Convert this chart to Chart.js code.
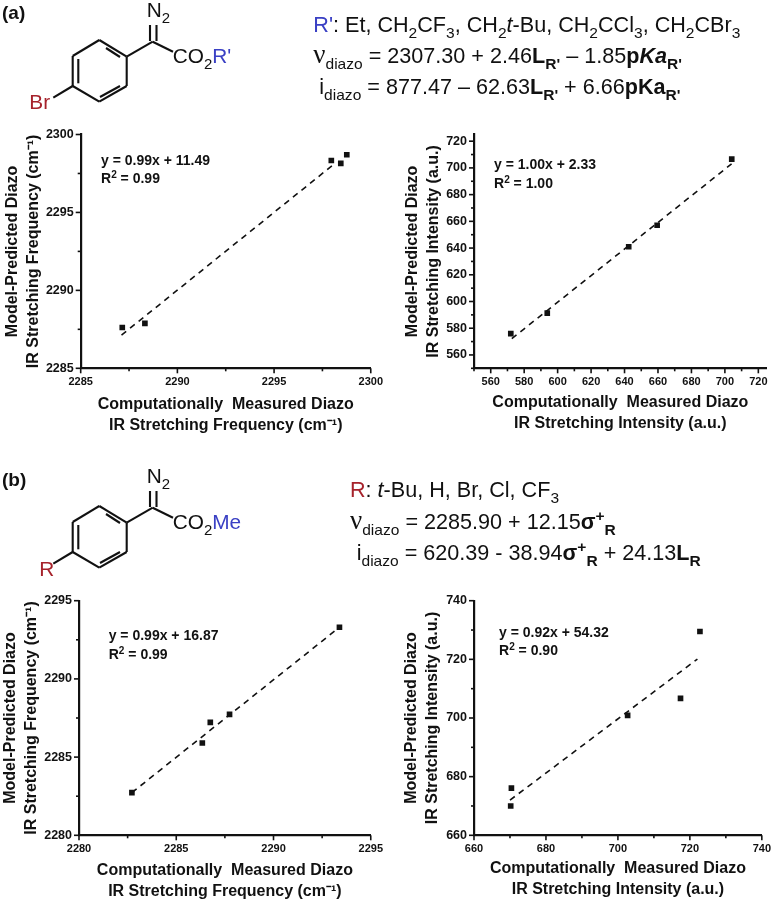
<!DOCTYPE html>
<html>
<head>
<meta charset="utf-8">
<title>Diazo IR stretching models</title>
<script src="https://cdn.jsdelivr.net/npm/chart.js@4"></script>
<style>
    html, body { margin: 0; padding: 0; background: #fff; }
    #page { position: relative; width: 778px; height: 903px; overflow: hidden; }
    #page canvas { position: absolute; }
    #overlay { position: absolute; left: 0; top: 0; }
    #overlay text { font-family: "Liberation Sans", Arial, sans-serif; fill: #111; white-space: pre; }
</style>
</head>
<body>
<div id="page">
    <canvas id="chartA1" width="390" height="320" style="left:0;top:120px"></canvas>
    <canvas id="chartA2" width="388" height="320" style="left:390px;top:120px"></canvas>
    <canvas id="chartB1" width="390" height="328" style="left:0;top:575px"></canvas>
    <canvas id="chartB2" width="388" height="328" style="left:390px;top:575px"></canvas>
    <svg id="overlay" width="778" height="903"></svg>
</div>
<script>
// Values
const a1X = [2287.15, 2288.32, 2297.96, 2298.45, 2298.76];
const a1Y = [2287.62, 2287.88, 2298.33, 2298.15, 2298.70];
const a1FitX = [2287.11, 2298.05];
const a1FitY = [2287.13, 2298.05];
const a1Major = [2285, 2290, 2295, 2300];
const a1Minor = [2287.5, 2292.5, 2297.5];

const a2X = [572.0, 593.8, 642.5, 659.5, 704.1];
const a2Y = [575.9, 591.3, 641.0, 657.1, 706.6];
const a2FitX = [572.6, 704.0];
const a2FitY = [572.2, 703.0];
const a2Major = [560, 580, 600, 620, 640, 660, 680, 700, 720];
const a2Minor = [550, 570, 590, 610, 630, 650, 670, 690, 710];

const b1X = [2282.72, 2286.34, 2286.75, 2287.74, 2293.39];
const b1Y = [2282.73, 2285.90, 2287.22, 2287.73, 2293.30];
const b1FitX = [2282.72, 2293.39];
const b1FitY = [2282.73, 2293.30];
const b1Major = [2280, 2285, 2290, 2295];
const b1Minor = [2282.5, 2287.5, 2292.5];

const b2X = [670.4, 670.2, 702.7, 717.4, 722.8];
const b2Y = [676.1, 670.0, 700.9, 706.7, 729.5];
const b2FitX = [670.0, 722.1];
const b2FitY = [672.0, 720.1];
const b2Major = [660, 680, 700, 720, 740];
const b2Minor = [670, 690, 710, 730];

const xTitleFreq = ['Computationally  Measured Diazo', 'IR Stretching Frequency (cm\u207B\u00B9)'];
const xTitleInt = ['Computationally  Measured Diazo', 'IR Stretching Intensity (a.u.)'];
const yTitleFreq = ['Model-Predicted Diazo', 'IR Stretching Frequency (cm\u207B\u00B9)'];
const yTitleInt = ['Model-Predicted Diazo', 'IR Stretching Intensity (a.u.)'];

const FONT = '"Liberation Sans", Arial, sans-serif';
const INK = '#111';

// Origin style ticks: long on labelled values, short on the in-between ones
const originTicks = {
    id: 'originTicks',
    afterDraw(chart) {
        const { ctx } = chart;
        ctx.save();
        ctx.strokeStyle = INK;
        ctx.lineWidth = 1.6;
        [chart.scales.x, chart.scales.y].forEach(scale => {
            scale.ticks.forEach((tick, i) => {
                const len = tick.label ? 5 : 3;
                const p = scale.getPixelForTick(i);
                ctx.beginPath();
                if (scale.axis === 'x') {
                    ctx.moveTo(p, scale.top);
                    ctx.lineTo(p, scale.top + len);
                } else {
                    ctx.moveTo(scale.right, p);
                    ctx.lineTo(scale.right - len, p);
                }
                ctx.stroke();
            });
        });
        ctx.restore();
    }
};

function axis(range, major, minor, title, box, titlePad, tickSize, tickPad) {
    const horizontal = box.height !== undefined;
    return {
        type: 'linear',
        position: horizontal ? 'bottom' : 'left',
        min: range[0],
        max: range[1],
        border: { display: true, width: 2.2, color: INK },
        grid: { display: false, drawTicks: false },
        afterBuildTicks(scale) {
            scale.ticks = major.concat(minor).sort((a, b) => a - b).map(value => ({ value }));
        },
        afterFit(scale) {
            if (horizontal) scale.height = box.height;
            else scale.width = box.width;
        },
        ticks: {
            autoSkip: false,
            maxRotation: 0,
            minRotation: 0,
            padding: tickPad,
            color: INK,
            font: { family: FONT, size: tickSize, weight: 'bold' },
            callback: value => (major.includes(value) ? String(value) : '')
        },
        title: {
            display: true,
            text: title,
            color: INK,
            padding: titlePad,
            font: { family: FONT, size: 16, weight: 'bold', lineHeight: '21px' }
        }
    };
}

function makeChart(id, data, opts) {
    const points = data.x.map((x, i) => ({ x, y: data.y[i] }));
    const fit = data.fitX.map((x, i) => ({ x, y: data.fitY[i] }));
    return new Chart(document.getElementById(id), {
        type: 'scatter',
        data: {
            datasets: [
                {
                    data: points,
                    pointStyle: 'rect',
                    pointRadius: 4,
                    backgroundColor: INK,
                    borderWidth: 0
                },
                {
                    data: fit,
                    showLine: true,
                    pointRadius: 0,
                    borderColor: INK,
                    borderWidth: 1.6,
                    borderDash: [6, 5]
                }
            ]
        },
        options: {
            responsive: false,
            animation: false,
            layout: { autoPadding: false, padding: opts.padding },
            plugins: { legend: { display: false }, tooltip: { enabled: false } },
            scales: { x: opts.x, y: opts.y }
        },
        plugins: [originTicks]
    });
}

makeChart('chartA1', { x: a1X, y: a1Y, fitX: a1FitX, fitY: a1FitY }, {
    padding: { left: 0, top: 14, right: 18.3, bottom: 0 },
    x: axis([2285, 2300], a1Major, a1Minor, xTitleFreq, { height: 71.7 }, { bottom: 3.8 }, 11, 7),
    y: axis([2285, 2300], a1Major, a1Minor, yTitleFreq, { width: 80.7 }, { top: 2 }, 12.5, 7)
});
makeChart('chartA2', { x: a2X, y: a2Y, fitX: a2FitX, fitY: a2FitY }, {
    padding: { left: 0, top: 14, right: 11.3, bottom: 0 },
    x: axis([550, 725], a2Major, a2Minor, xTitleInt, { height: 71.7 }, { bottom: 6.2 }, 11, 7),
    y: axis([550, 725], a2Major, a2Minor, yTitleInt, { width: 84 }, { top: 12.5 }, 12.5, 7)
});
makeChart('chartB1', { x: b1X, y: b1Y, fitX: b1FitX, fitY: b1FitY }, {
    padding: { left: 0, top: 25.7, right: 19, bottom: 0 },
    x: axis([2280, 2295], b1Major, b1Minor, xTitleFreq, { height: 67.7 }, { bottom: 0.8 }, 11, 7),
    y: axis([2280, 2295], b1Major, b1Minor, yTitleFreq, { width: 79 }, { top: 0.5 }, 12.5, 7)
});
makeChart('chartB2', { x: b2X, y: b2Y, fitX: b2FitX, fitY: b2FitY }, {
    padding: { left: 0, top: 25.7, right: 12, bottom: 0 },
    x: axis([660, 740], b2Major, b2Minor, xTitleInt, { height: 67.7 }, { bottom: 2.5 }, 11, 7),
    y: axis([660, 740], b2Major, b2Minor, yTitleInt, { width: 84 }, { top: 11 }, 12.5, 7)
});

// Text with sub/superscripts and the structure drawings go on one svg layer
const RED = '#a6222b';
const BLUE = '#3a40c4';

function richText(x, y, size, parts, baseWeight) {
    let shift = 0;
    const spans = parts.map(part => {
        const [str, style = ''] = Array.isArray(part) ? part : [part];
        const target = style.includes('sub') ? size * 0.27 : style.includes('sup') ? -size * 0.36 : 0;
        const dy = target - shift;
        shift = target;
        let attrs = `dy="${dy}"`;
        if (style.includes('sub') || style.includes('sup')) attrs += ` font-size="${size * 0.72}"`;
        if (style.includes('bold')) attrs += ' font-weight="bold"';
        if (style.includes('ital')) attrs += ' font-style="italic"';
        if (style.includes('red')) attrs += ` style="fill:${RED}"`;
        if (style.includes('blue')) attrs += ` style="fill:${BLUE}"`;
        if (style.includes('serif')) attrs += ' style="font-family:\'Liberation Serif\'" font-size="' + size * 1.25 + '"';
        return `<tspan ${attrs}>${str}</tspan>`;
    }).join('');
    return `<text x="${x}" y="${y}" font-size="${size}" font-weight="${baseWeight || 'normal'}" xml:space="preserve">${spans}</text>`;
}

function structure(dy, label, lx, ly, tail, tailStyle) {
    const segs = [
        [99.3, 40, 126.7, 56.7], [126.7, 56.7, 126.7, 86], [126.7, 86, 99.3, 101.7],
        [99.3, 101.7, 72.7, 86], [72.7, 86, 72.7, 56], [72.7, 56, 99.3, 40],
        [106, 48, 120, 57], [78.3, 59, 78.3, 83.3], [100, 97, 120, 86],
        [126.7, 56.7, 152.7, 41.7], [152.7, 41.7, 173, 51.7],
        [150, 41, 150, 25], [156.5, 41, 156.5, 25], [72.7, 86, 53.3, 97.7]
    ];
    const lines = segs.map(s =>
        `<line x1="${s[0]}" y1="${s[1] + dy}" x2="${s[2]}" y2="${s[3] + dy}" stroke="#111" stroke-width="2.1"/>`
    ).join('');
    return lines
        + richText(146.7, 17 + dy, 20.8, ['N', ['2', 'sub']])
        + richText(172.7, 63.3 + dy, 20.8, ['CO', ['2', 'sub'], [tail, tailStyle]])
        + richText(lx, ly, 20.8, [[label, 'red']]);
}

const overlayParts = [
    richText(2, 19, 19, ['(a)'], 'bold'),
    richText(2, 485.7, 19, ['(b)'], 'bold'),
    structure(0, 'Br', 29.3, 109.3, "R'", 'blue'),
    structure(466, 'R', 39.3, 575.7, 'Me', 'blue'),

    richText(313.3, 32.3, 21.6, [["R'", 'blue'], ': Et, CH', ['2', 'sub'], 'CF', ['3', 'sub'], ', CH', ['2', 'sub'],
        ['t', 'ital'], '-Bu, CH', ['2', 'sub'], 'CCl', ['3', 'sub'], ', CH', ['2', 'sub'], 'CBr', ['3', 'sub']]),
    richText(313.3, 63.3, 21.6, [['\u03BD', 'serif'], ['diazo', 'sub'], ' = 2307.30 + 2.46', ['L', 'bold'], ["R'", 'sub bold'],
        ' \u2013 1.85', ['p', 'bold'], ['Ka', 'bold ital'], ["R'", 'sub bold']]),
    richText(319.3, 94, 21.6, ['i', ['diazo', 'sub'], ' = 877.47 \u2013 62.63', ['L', 'bold'], ["R'", 'sub bold'],
        ' + 6.66', ['pKa', 'bold'], ["R'", 'sub bold']]),

    richText(350, 496.7, 21.6, [['R', 'red'], ': ', ['t', 'ital'], '-Bu, H, Br, Cl, CF', ['3', 'sub']]),
    richText(350, 529, 21.6, [['\u03BD', 'serif'], ['diazo', 'sub'], ' = 2285.90 + 12.15', ['\u03C3', 'bold'], ['+', 'sup bold'], ['R', 'sub bold']]),
    richText(356.7, 560, 21.6, ['i', ['diazo', 'sub'], ' = 620.39 - 38.94', ['\u03C3', 'bold'], ['+', 'sup bold'], ['R', 'sub bold'],
        ' + 24.13', ['L', 'bold'], ['R', 'sub bold']]),

    richText(101, 165, 14, ['y = 0.99x + 11.49'], 'bold'),
    richText(101, 182.7, 14, ['R', ['2', 'sup'], ' = 0.99'], 'bold'),
    richText(494, 169.3, 14, ['y = 1.00x + 2.33'], 'bold'),
    richText(494, 187.7, 14, ['R', ['2', 'sup'], ' = 1.00'], 'bold'),
    richText(108.7, 640, 14, ['y = 0.99x + 16.87'], 'bold'),
    richText(108.7, 659, 14, ['R', ['2', 'sup'], ' = 0.99'], 'bold'),
    richText(499, 636.7, 14, ['y = 0.92x + 54.32'], 'bold'),
    richText(499, 655, 14, ['R', ['2', 'sup'], ' = 0.90'], 'bold')
];
document.getElementById('overlay').innerHTML = overlayParts.join('');
</script>
</body>
</html>
